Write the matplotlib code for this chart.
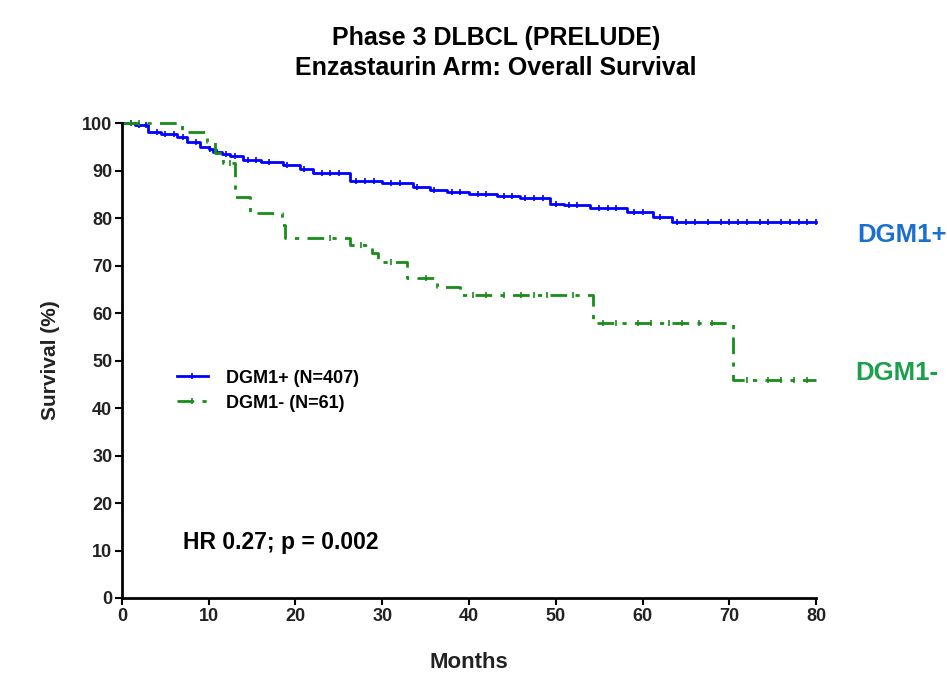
import numpy as np
import matplotlib
matplotlib.use("Agg")
from matplotlib import pyplot as plt
from matplotlib.lines import Line2D

plt.rcParams['font.family'] = ['Liberation Sans', 'DejaVu Sans']

# Kaplan-Meier steps (months, survival %)
pos_t = [0, 1.5, 3.0, 4.5, 6.3, 7.5, 9.0, 10.0, 10.5, 11.5, 12.4, 13.9, 16.0, 18.6,
         20.5, 22.0, 26.3, 30.0, 33.5, 35.5, 37.5, 40.0, 43.2, 45.9, 49.3, 51.0,
         53.9, 58.2, 61.2, 63.4, 80]
pos_s = [100, 99.5, 98.2, 97.8, 97.1, 96.0, 95.0, 94.6, 94.0, 93.5, 93.0, 92.3, 91.8,
         91.1, 90.3, 89.4, 87.7, 87.3, 86.6, 86.0, 85.5, 85.1, 84.6, 84.2, 83.0, 82.8,
         82.2, 81.3, 80.2, 79.2, 79.2]
pos_cens = [1, 2, 2.8, 4, 5, 6, 7, 8.5, 10.2, 11, 12, 13, 14.5, 15.5, 17, 19, 21, 23,
            24, 25, 27, 28, 29, 31, 32, 34, 36, 38, 39, 41, 42, 44, 45, 46.5, 47.5, 48.5,
            50, 51.5, 52.5, 55, 56, 57, 59, 60, 62, 64, 65, 66, 67.5, 69, 70, 71, 72,
            73.5, 74.5, 76, 77, 78, 79, 80]

neg_t = [0, 6.9, 9.8, 10.7, 11.6, 13.0, 14.8, 18.4, 18.8, 26.3, 28.8, 29.5, 32.9,
         36.3, 39.0, 54.3, 70.4, 80]
neg_s = [100, 98.2, 96.0, 93.7, 91.6, 84.4, 81.0, 78.5, 75.9, 74.3, 72.6, 70.8, 67.4,
         65.5, 63.8, 57.9, 45.9, 45.9]
neg_cens = [1, 2, 12.5, 24, 27.5, 31, 35, 40.5, 42, 44, 46, 47.5, 49, 52, 55.5, 57,
            59.5, 61, 63, 64.5, 66.5, 68, 72, 74.5, 76, 77.5, 79]

blue = '#0000ff'
green = '#1a8c1a'
tick_font = ['Liberation Sans Narrow', 'Liberation Sans', 'DejaVu Sans']


def step_value(t, s, c):
    idx = np.searchsorted(t, c, side='right') - 1
    return np.array(s)[idx]


fig = plt.figure(figsize=(9.47, 6.8), dpi=100)
ax = fig.add_axes([0.1288, 0.1206, 0.7329, 0.6984])

ls_neg = (0, (6, 3, 1.5, 3))
ax.plot(pos_t, pos_s, drawstyle='steps-post', color=blue, lw=2, clip_on=False)
ax.plot(pos_cens, step_value(pos_t, pos_s, pos_cens), ls='none', marker='|',
        ms=4.5, mew=1.2, color=blue, clip_on=False)
ax.plot(neg_t, neg_s, drawstyle='steps-post', color=green, lw=2, ls=ls_neg, clip_on=False)
ax.plot(neg_cens, step_value(neg_t, neg_s, neg_cens), ls='none', marker='|',
        ms=4, mew=1.2, color=green, clip_on=False)

ax.set_xlim(0, 80)
ax.set_ylim(0, 100)
ax.set_xticks(range(0, 81, 10))
ax.set_yticks(range(0, 101, 10))
for sp in ['top', 'right']:
    ax.spines[sp].set_visible(False)
for sp in ['left', 'bottom']:
    ax.spines[sp].set_linewidth(2)
ax.tick_params(length=5, width=1.5, pad=2)
for lab in ax.get_xticklabels() + ax.get_yticklabels():
    lab.set_fontweight('bold')
    lab.set_family(tick_font)
    lab.set_fontsize(13)
    lab.set_color('#222222')

ax.set_xlabel('Months', fontsize=16, fontweight='bold', labelpad=20, color='#222222')
ax.set_ylabel('Survival (%)', fontsize=15, fontweight='bold', labelpad=16, color='#222222')
fig.text(0.5235, 1 - 38 / 680, 'Phase 3 DLBCL (PRELUDE)', fontsize=18,
         fontweight='bold', ha='center', va='center')
fig.text(0.5235, 1 - 68 / 680, 'Enzastaurin Arm: Overall Survival', fontsize=18,
         fontweight='bold', ha='center', va='center')

handles = [Line2D([], [], color=blue, lw=2, marker='|', ms=5, mew=1.2),
           Line2D([], [], color=green, lw=2, ls=ls_neg, marker='|', ms=4, mew=1.2)]
ax.legend(handles, ['DGM1+ (N=407)', 'DGM1- (N=61)'], loc='upper left',
          bbox_to_anchor=(0.056, 0.515), frameon=False, handlelength=1.7,
          prop={'weight': 'bold', 'size': 13}, labelspacing=0.45, handletextpad=1.0)

ax.text(7.0, 11.6, 'HR 0.27; p = 0.002', fontsize=16.5, fontweight='bold', va='center')
ax.text(84.7, 76.5, 'DGM1+', fontsize=18.5, fontweight='bold', color='#1a6fd0',
        va='center', clip_on=False)
ax.text(84.5, 47.3, 'DGM1-', fontsize=18.5, fontweight='bold', color='#1aa04a',
        va='center', clip_on=False)

fig.savefig('out.png', dpi=100)
